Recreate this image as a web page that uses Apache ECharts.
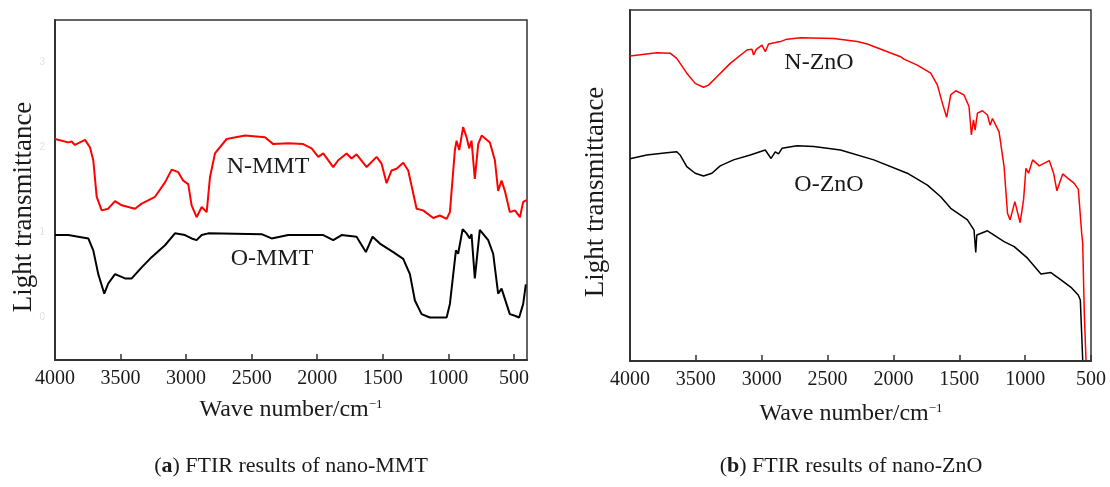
<!DOCTYPE html>
<html>
<head>
<meta charset="utf-8">
<script src="https://cdn.jsdelivr.net/npm/echarts@6/dist/echarts.min.js"></script>
<style>
	html, body { margin: 0; padding: 0; background: #fff; }
	#chart { width: 1110px; height: 487px; }
</style>
</head>
<body>
<div id="chart"></div>
<script>
// (a) nano-MMT, wave number in cm-1, transmittance in arbitrary offset units
const mmtNWave = [4000, 3899, 3873, 3848, 3771, 3733, 3708, 3682, 3644, 3594, 3542, 3491, 3390, 3339, 3237, 3161, 3110, 3060, 3022, 2984, 2958, 2920, 2881, 2843, 2818, 2780, 2691, 2551, 2399, 2335, 2221, 2107, 2043, 1992, 1954, 1878, 1840, 1776, 1738, 1700, 1623, 1547, 1509, 1471, 1433, 1395, 1344, 1306, 1242, 1192, 1115, 1064, 1013, 988, 950, 937, 917, 887, 861, 841, 823, 798, 772, 746, 683, 645, 620, 594, 569, 531, 492, 454, 429, 403]
const mmtNValue = [2.10, 2.06, 2.07, 2.03, 2.09, 2.00, 1.85, 1.42, 1.26, 1.28, 1.37, 1.32, 1.28, 1.34, 1.42, 1.59, 1.74, 1.71, 1.61, 1.57, 1.32, 1.18, 1.30, 1.24, 1.65, 1.93, 2.10, 2.14, 2.12, 2.04, 2.05, 2.04, 1.99, 1.89, 1.93, 1.77, 1.85, 1.93, 1.87, 1.92, 1.77, 1.89, 1.81, 1.58, 1.73, 1.75, 1.82, 1.73, 1.28, 1.26, 1.17, 1.20, 1.16, 1.24, 1.97, 2.08, 1.97, 2.24, 2.12, 1.99, 2.08, 1.63, 2.04, 2.14, 2.06, 1.85, 1.49, 1.61, 1.49, 1.24, 1.26, 1.18, 1.36, 1.38]

const mmtOWave = [4000, 3899, 3746, 3708, 3670, 3624, 3594, 3542, 3466, 3415, 3339, 3263, 3161, 3085, 3009, 2958, 2920, 2881, 2831, 2424, 2348, 2221, 2056, 1954, 1878, 1814, 1700, 1629, 1578, 1522, 1420, 1344, 1293, 1255, 1204, 1141, 1013, 988, 942, 925, 891, 861, 836, 823, 798, 760, 696, 658, 620, 594, 531, 492, 460, 429, 409]
const mmtOValue = [0.97, 0.97, 0.93, 0.79, 0.51, 0.28, 0.40, 0.51, 0.46, 0.46, 0.59, 0.71, 0.85, 0.99, 0.97, 0.93, 0.91, 0.97, 0.99, 0.98, 0.93, 0.97, 0.97, 0.97, 0.91, 0.97, 0.95, 0.77, 0.95, 0.87, 0.77, 0.69, 0.51, 0.20, 0.04, 0.00, 0.00, 0.16, 0.79, 0.75, 1.04, 0.99, 0.93, 0.98, 0.46, 1.03, 0.91, 0.75, 0.28, 0.34, 0.04, 0.02, 0.00, 0.16, 0.39]

// (b) nano-ZnO
const znoNWave = [4000, 3797, 3696, 3645, 3569, 3505, 3442, 3404, 3340, 3239, 3112, 3074, 3062, 3041, 2998, 2973, 2948, 2859, 2808, 2706, 2453, 2275, 2199, 1946, 1920, 1819, 1717, 1666, 1628, 1596, 1565, 1527, 1464, 1426, 1408, 1392, 1380, 1362, 1324, 1286, 1266, 1248, 1198, 1160, 1134, 1114, 1078, 1038, 1012, 994, 974, 943, 893, 817, 784, 759, 715, 677, 627, 596, 581, 571, 563, 551, 538]
const znoNValue = [86.9, 87.8, 87.7, 86.2, 82.0, 79.1, 78.0, 78.6, 81.0, 84.8, 88.6, 88.8, 87.2, 88.8, 90.0, 88.1, 90.3, 91.0, 91.7, 92.1, 91.9, 91.0, 90.3, 86.7, 86.0, 84.3, 82.0, 78.6, 73.4, 69.4, 75.8, 77.0, 75.8, 72.5, 64.4, 68.7, 65.8, 70.6, 71.3, 70.1, 67.2, 69.1, 65.3, 55.4, 42.1, 40.2, 45.4, 39.4, 45.9, 54.9, 53.5, 57.3, 55.6, 57.1, 53.5, 48.5, 53.3, 52.1, 50.6, 48.9, 48.5, 36.5, 33.6, 13.7, 0.3]

const znoOWave = [4000, 3873, 3721, 3645, 3620, 3569, 3505, 3442, 3378, 3315, 3214, 3087, 2973, 2929, 2897, 2872, 2846, 2732, 2605, 2402, 2149, 1895, 1742, 1641, 1565, 1438, 1388, 1375, 1367, 1286, 1160, 1083, 982, 880, 804, 728, 652, 597, 581, 571, 563]
const znoOValue = [57.6, 58.7, 59.3, 59.6, 58.7, 55.4, 53.5, 52.7, 53.5, 55.6, 57.3, 58.7, 60.1, 57.7, 59.6, 59.0, 60.6, 61.3, 61.1, 60.1, 57.3, 53.5, 50.1, 46.8, 43.5, 40.2, 37.3, 30.9, 35.9, 37.1, 34.0, 32.6, 29.3, 24.8, 25.2, 23.1, 21.0, 18.8, 17.4, 7.9, 0.3]

const waveTicks = [4000, 3500, 3000, 2500, 2000, 1500, 1000, 500]
const mmtLevels = [0, 1, 2, 3]

const zip = (xs, ys) => xs.map((x, i) => [x, ys[i]])

const font = 'Liberation Serif'
const textColor = '#1a1a1a'

const xAxisBase = {
	type: 'value',
	inverse: true,
	splitLine: { show: false },
	axisLine: { onZero: false, lineStyle: { color: '#333', width: 2 } },
	axisTick: { inside: true, length: 6, lineStyle: { color: '#333', width: 1.5 } },
	axisLabel: { color: textColor, fontFamily: font, fontSize: 20, margin: 9, formatter: (v) => String(v) }
}

const yAxisBase = {
	type: 'value',
	splitLine: { show: false },
	axisLine: { show: true, onZero: false, lineStyle: { color: '#333', width: 2 } },
	axisTick: { show: false }
}

const titleText = (text, x, y, size, rotation) => ({
	type: 'text',
	x: x,
	y: y,
	rotation: rotation || 0,
	style: {
		text: text,
		align: 'center',
		verticalAlign: 'middle',
		fill: textColor,
		font: size + 'px "' + font + '"',
		rich: {
			s: { fontSize: 13, fontFamily: font, fill: textColor, verticalAlign: 'top', lineHeight: 16 },
			b: { fontSize: size, fontFamily: font, fontWeight: 'bold', fill: textColor }
		}
	}
})

const option = {
	animation: false,
	backgroundColor: '#fff',
	grid: [
		{ left: 55, top: 20, width: 472, height: 340, show: true, borderColor: '#333', borderWidth: 1.5 },
		{ left: 630, top: 10, width: 461, height: 351, show: true, borderColor: '#333', borderWidth: 1.5 }
	],
	xAxis: [
		Object.assign({}, xAxisBase, {
			gridIndex: 0,
			min: 400,
			max: 4000,
			axisTick: Object.assign({}, xAxisBase.axisTick, { customValues: waveTicks }),
			axisLabel: Object.assign({}, xAxisBase.axisLabel, { customValues: waveTicks })
		}),
		Object.assign({}, xAxisBase, {
			gridIndex: 1,
			min: 500,
			max: 4000,
			interval: 500
		})
	],
	yAxis: [
		Object.assign({}, yAxisBase, {
			gridIndex: 0,
			min: -0.5,
			max: 3.5,
			interval: 0.5,
			axisLabel: {
				color: '#dde4f0',
				fontSize: 10,
				margin: 10,
				formatter: (v) => mmtLevels.includes(v) ? String(v) : ''
			}
		}),
		Object.assign({}, yAxisBase, {
			gridIndex: 1,
			min: 0,
			max: 100,
			axisLabel: { show: false }
		})
	],
	series: [
		{ name: 'N-MMT', type: 'line', xAxisIndex: 0, yAxisIndex: 0, data: zip(mmtNWave, mmtNValue), showSymbol: false, lineStyle: { color: '#ff0000', width: 2 } },
		{ name: 'O-MMT', type: 'line', xAxisIndex: 0, yAxisIndex: 0, data: zip(mmtOWave, mmtOValue), showSymbol: false, lineStyle: { color: '#000', width: 2 } },
		{ name: 'N-ZnO', type: 'line', xAxisIndex: 1, yAxisIndex: 1, data: zip(znoNWave, znoNValue), showSymbol: false, lineStyle: { color: '#ff0000', width: 1.5 } },
		{ name: 'O-ZnO', type: 'line', xAxisIndex: 1, yAxisIndex: 1, data: zip(znoOWave, znoOValue), showSymbol: false, lineStyle: { color: '#000', width: 1.5 } }
	],
	graphic: [
		titleText('Light transmittance', 24, 207, 27, Math.PI / 2),
		titleText('Light transmittance', 596, 192, 27, Math.PI / 2),
		titleText('Wave number/cm{s|−1}', 291, 410, 24),
		titleText('Wave number/cm{s|−1}', 851, 414, 24),
		titleText('({b|a}) FTIR results of nano-MMT', 291, 466, 22),
		titleText('({b|b}) FTIR results of nano-ZnO', 851, 466, 22),
		titleText('N-MMT', 268, 167, 24),
		titleText('O-MMT', 272, 259, 24),
		titleText('N-ZnO', 819, 63, 24),
		titleText('O-ZnO', 829, 185, 24)
	]
}

const chart = echarts.init(document.getElementById('chart'))
chart.setOption(option)
</script>
</body>
</html>
